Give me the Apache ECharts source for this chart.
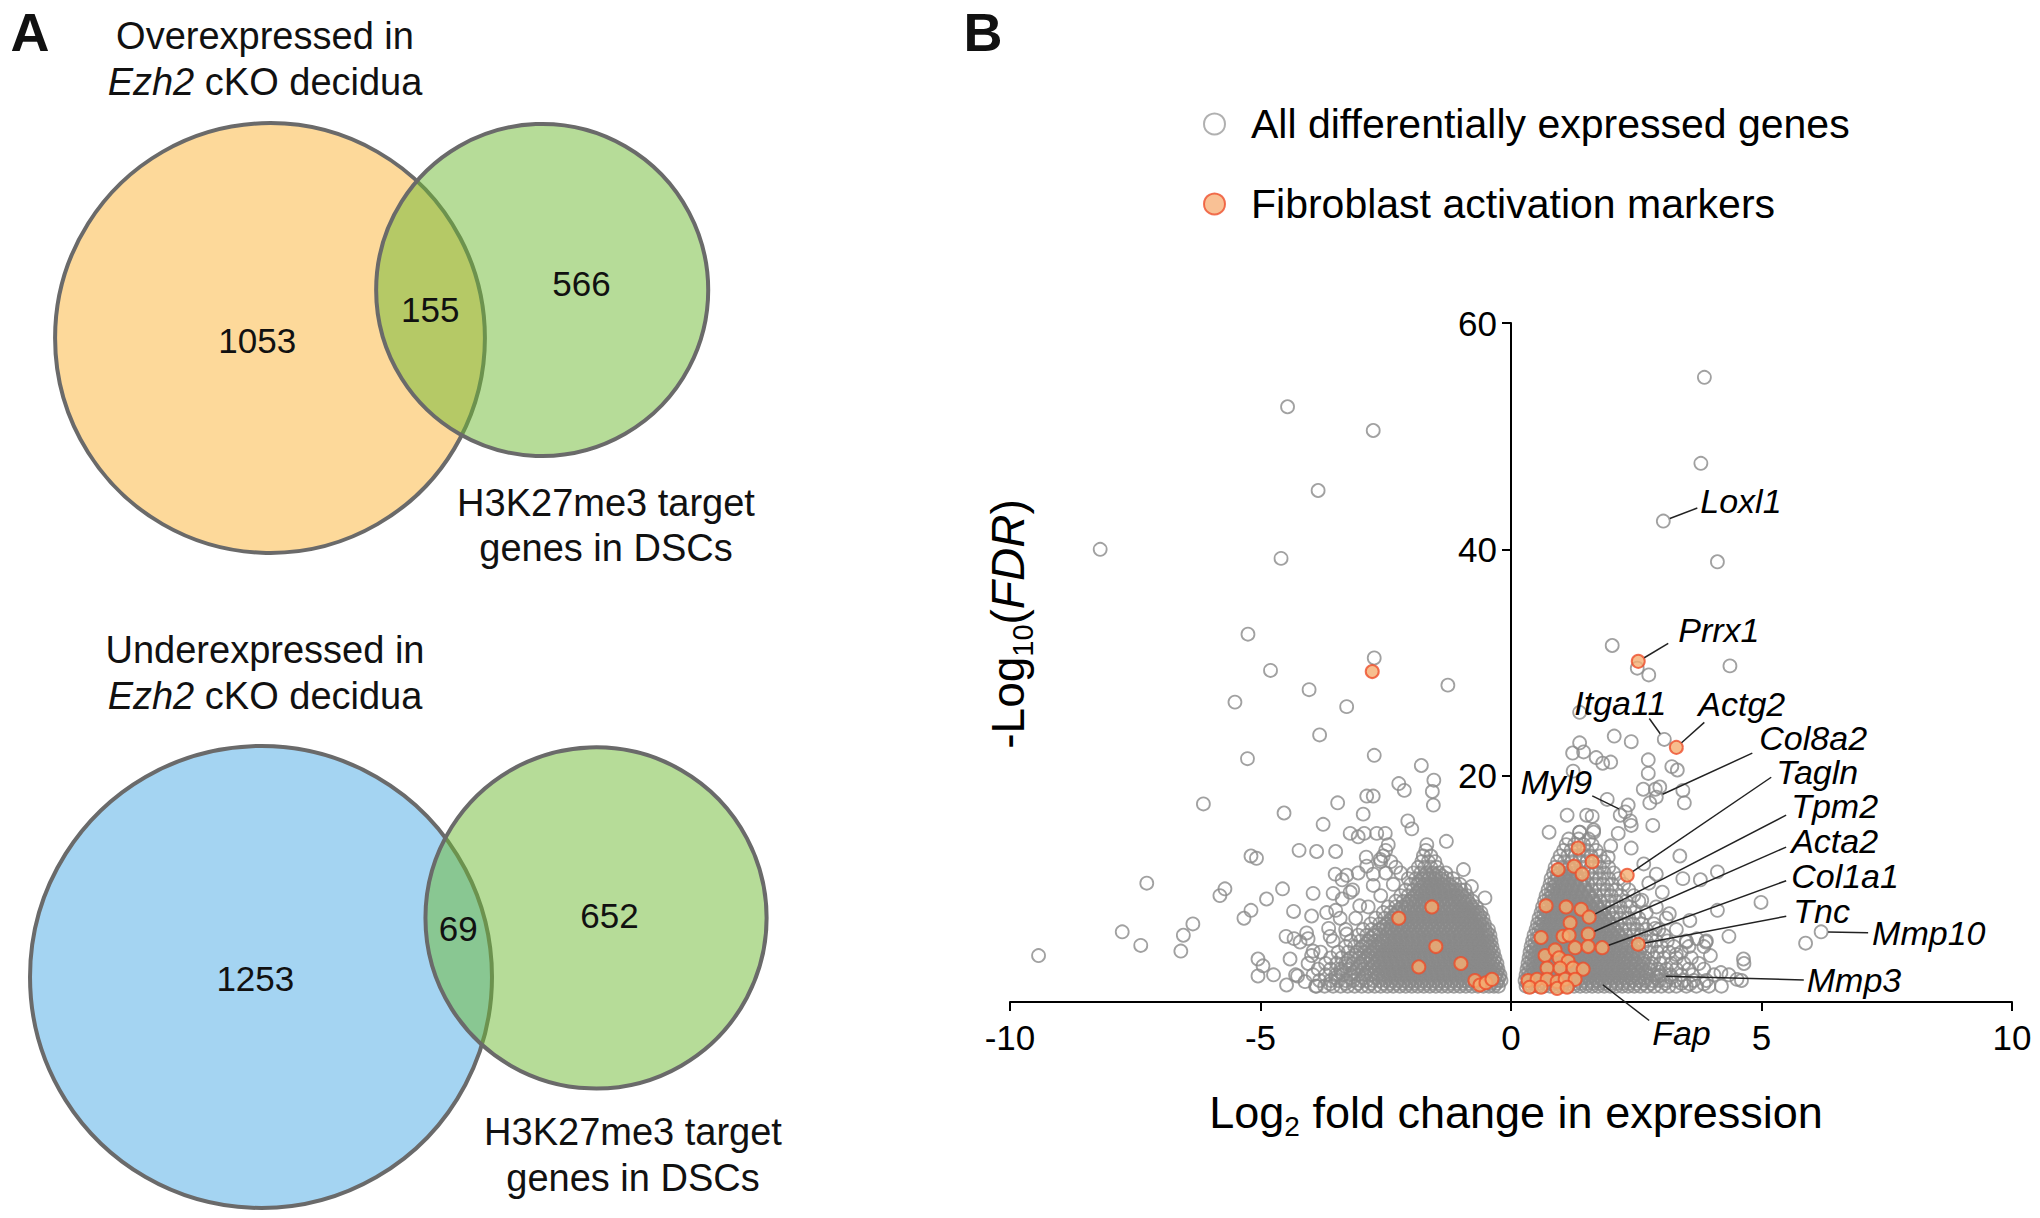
<!DOCTYPE html>
<html><head><meta charset="utf-8">
<script src="https://cdn.jsdelivr.net/npm/echarts@6/dist/echarts.min.js"></script>
<style>html,body{margin:0;padding:0;background:#fff}#c{width:2040px;height:1218px}</style>
</head><body><div id="c"></div><script>
// ---------------- DATA ----------------
// Venn counts: [only in expression set, shared, only H3K27me3 targets]
const vennUpCounts = [1053, 155, 566];
const vennDownCounts = [1253, 69, 652];
const vennUpTitle = ['Overexpressed in', '{i|Ezh2} cKO decidua'];
const vennDownTitle = ['Underexpressed in', '{i|Ezh2} cKO decidua'];
const vennSetLabel = ['H3K27me3 target', 'genes in DSCs'];

// Volcano plot
const xTicks = [-10, -5, 0, 5, 10];
const yTicks = [20, 40, 60];
const seriesNames = ['All differentially expressed genes', 'Fibroblast activation markers'];
const xAxisTitle = 'Log{sub|2} fold change in expression';
const yAxisTitle = '-Log{sub|10}({i|FDR})';

// sparse differentially expressed genes [log2FC, -log10 FDR]
const graySparse = [
[-4.46,52.6],[-2.75,50.5],[-3.85,45.2],[-8.2,40.0],[-4.59,39.2],[-5.25,32.5],[-2.73,30.4],[-4.8,29.3],[-4.03,27.6],[-1.26,28.0],
[-5.51,26.5],[-3.28,26.1],[-3.82,23.6],[-2.73,21.8],[-5.26,21.5],[-1.79,20.9],[-2.24,19.3],[-2.13,18.7],[-1.54,19.6],[-1.57,18.6],
[-1.55,17.4],[-2.88,18.2],[-2.75,18.2],[-6.14,17.5],[-3.46,17.6],[-4.53,16.7],[-2.06,16.0],[-1.98,15.3],[-3.75,15.7],[-2.95,16.6],
[-2.93,14.9],[-2.51,14.9],[-2.68,14.9],[-3.05,14.6],[-3.21,14.9],[-1.29,14.2],[-4.23,13.4],[-3.88,13.3],[-3.5,13.3],[-2.89,12.8],
[-5.19,12.9],[-5.08,12.7],[-7.27,10.5],[-5.71,10.0],[-5.81,9.4],[-4.56,10.0],[-4.88,9.1],[-5.33,7.4],[-5.19,8.1],[-7.76,6.2],
[-6.35,6.9],[-6.54,5.9],[-6.59,4.5],[-7.39,5.0],[-9.43,4.1],[-4.49,5.8],[-4.33,5.6],[-5.05,3.8],[-4.95,3.2],[-4.74,2.4],
[-5.05,2.3],[-0.95,11.7],[-0.79,10.2],[-0.52,9.2],[-3.51,11.3],[-3.28,11.2],[-3.05,11.4],[-2.75,11.3],[-3.95,9.6],[-3.55,9.6],
[-3.21,9.7],[-4.34,8.0],[-3.98,7.6],[-3.68,7.9],[-3.41,7.4],[-4.08,6.1],[-3.61,5.8],[-3.28,6.0],[-4.41,3.8],[-4.21,5.3],
[-3.95,4.5],[-4.48,1.5],[-4.11,1.8],[-3.88,1.4],[-3.61,1.6],[-4.05,5.6],[-3.98,4.1],[-4.26,2.3],[-3.64,6.5],[-3.37,9.1],
[-3.5,8.1],[-3.16,9.9],[-2.75,10.3],[-3.02,8.5],[-3.37,10.8],[-2.88,12.0],[-2.61,12.6],
[3.86,55.2],[3.79,47.6],[3.04,42.5],[4.12,38.9],[2.02,31.5],[2.52,29.5],[2.75,28.9],[4.37,29.7],[1.37,25.6],[3.06,23.2],
[2.06,23.5],[2.4,23.0],[1.37,22.9],[1.23,22.0],[1.45,22.1],[1.7,21.6],[1.83,21.1],[1.99,21.2],[2.74,21.4],[3.21,20.8],
[3.32,20.5],[1.24,20.4],[2.74,20.2],[2.97,19.0],[2.64,18.8],[2.88,18.8],[3.43,18.7],[3.46,17.6],[2.77,17.6],[2.9,18.1],
[1.92,17.9],[2.34,17.4],[2.28,16.8],[2.18,16.5],[2.38,16.0],[2.4,15.6],[1.51,16.5],[1.12,16.5],[1.62,16.4],[0.76,15.0],
[1.37,15.0],[1.65,15.2],[2.14,14.9],[2.83,15.6],[1.99,13.8],[2.4,13.6],[1.94,12.8],[3.37,12.9],[4.12,11.5],[3.43,10.9],
[3.78,10.8],[4.99,8.8],[4.12,8.1],[4.35,5.8],[3.5,5.3],[3.71,5.6],[3.89,5.3],[5.88,5.2],[6.19,6.2],[4.64,3.8],
[4.19,2.6],[4.51,2.0],[3.85,1.6],[3.57,1.6],[3.98,4.1],[3.02,9.7],[2.75,10.5],[2.61,9.0],[3.16,7.8],[3.57,7.2],
[2.88,6.5],[3.3,4.2],[2.95,2.3],[2.65,12.2],[2.9,11.3],[1.72,1.9]
];

// dense part of the cloud, read row by row: [-log10 FDR, [log2FC ...]]
const grayDenseRows = [
[1.4,[-3.9,-3.72,-3.55,-3.4,-3.26,-3.12,-2.98,-2.85,-2.72,-2.6,-2.47,-2.35,-2.22,-2.1,-1.98,-1.86,-1.74,-1.62,-1.5,-1.38,-1.26,-1.14,-1.02,-0.9,-0.78,-0.66,-0.55,-0.44,-0.34,-0.25,
      0.3,0.42,0.54,0.66,0.78,0.9,1.02,1.14,1.26,1.38,1.5,1.62,1.74,1.86,1.98,2.1,2.22,2.34,2.46,2.58,2.72,2.86,3.0,3.15,3.3,3.5,3.7,3.95,4.2]],
[1.65,[-3.3,-3.05,-2.8,-2.55,-2.41,-2.29,-2.16,-2.04,-1.92,-1.8,-1.68,-1.56,-1.44,-1.32,-1.2,-1.08,-0.96,-0.84,-0.72,-0.6,-0.49,-0.39,-0.29,
      0.33,0.44,0.56,0.68,0.8,0.92,1.04,1.16,1.28,1.4,1.52,1.64,1.76,1.88,2.0,2.12,2.24,2.36,2.5,2.64,2.8,3.08,3.4]],
[1.9,[-3.82,-3.6,-3.45,-3.3,-3.15,-3.0,-2.88,-2.75,-2.62,-2.5,-2.38,-2.25,-2.13,-2.01,-1.89,-1.77,-1.65,-1.53,-1.41,-1.29,-1.17,-1.05,-0.93,-0.81,-0.69,-0.58,-0.47,-0.37,-0.27,-0.2,
      0.28,0.38,0.5,0.62,0.74,0.86,0.98,1.1,1.22,1.34,1.46,1.58,1.7,1.82,1.94,2.06,2.18,2.3,2.42,2.55,2.68,2.82,2.96,3.1,3.28,3.45,3.65,3.9,4.6]],
[2.15,[-3.5,-3.2,-2.95,-2.69,-2.56,-2.44,-2.32,-2.19,-2.07,-1.95,-1.83,-1.71,-1.59,-1.47,-1.35,-1.23,-1.11,-0.99,-0.87,-0.75,-0.64,-0.53,-0.42,-0.32,-0.24,
      0.34,0.45,0.57,0.69,0.81,0.93,1.05,1.17,1.29,1.41,1.53,1.65,1.77,1.89,2.01,2.13,2.25,2.38,2.52,2.66,2.9,3.2]],
[2.4,[-4.3,-3.95,-3.7,-3.5,-3.35,-3.2,-3.05,-2.92,-2.79,-2.66,-2.54,-2.42,-2.3,-2.18,-2.06,-1.94,-1.82,-1.7,-1.58,-1.46,-1.34,-1.22,-1.1,-0.98,-0.86,-0.74,-0.62,-0.51,-0.4,-0.3,-0.22,
      0.3,0.4,0.52,0.64,0.76,0.88,1.0,1.12,1.24,1.36,1.48,1.6,1.72,1.84,1.96,2.08,2.2,2.32,2.44,2.56,2.7,2.84,3.0,3.18,3.4,3.62,4.05,4.35]],
[2.65,[-3.4,-3.13,-2.88,-2.73,-2.6,-2.48,-2.36,-2.24,-2.12,-2.0,-1.88,-1.76,-1.64,-1.52,-1.4,-1.28,-1.16,-1.04,-0.92,-0.8,-0.69,-0.58,-0.47,-0.37,-0.28,
      0.36,0.47,0.59,0.71,0.83,0.95,1.07,1.19,1.31,1.43,1.55,1.67,1.79,1.91,2.03,2.15,2.27,2.4,2.54,2.69,2.95]],
[2.9,[-3.85,-3.6,-3.4,-3.22,-3.08,-2.95,-2.82,-2.69,-2.56,-2.44,-2.32,-2.2,-2.08,-1.96,-1.84,-1.72,-1.6,-1.48,-1.36,-1.24,-1.12,-1.0,-0.88,-0.76,-0.65,-0.54,-0.44,-0.34,-0.26,
      0.32,0.44,0.56,0.68,0.8,0.92,1.04,1.16,1.28,1.4,1.52,1.64,1.76,1.88,2.0,2.12,2.24,2.36,2.48,2.62,2.76,2.92,3.1,3.3,3.55,3.85]],
[3.15,[-3.3,-3.02,-2.76,-2.63,-2.5,-2.38,-2.26,-2.14,-2.02,-1.9,-1.78,-1.66,-1.54,-1.42,-1.3,-1.18,-1.06,-0.94,-0.82,-0.71,-0.6,-0.5,-0.4,-0.31,
      0.38,0.5,0.62,0.74,0.86,0.98,1.1,1.22,1.34,1.46,1.58,1.7,1.82,1.94,2.06,2.18,2.31,2.45,2.6,2.78]],
[3.4,[-4.05,-3.7,-3.48,-3.3,-3.15,-3.0,-2.86,-2.73,-2.6,-2.48,-2.36,-2.24,-2.12,-2.0,-1.88,-1.76,-1.64,-1.52,-1.4,-1.28,-1.16,-1.04,-0.92,-0.8,-0.69,-0.58,-0.47,-0.37,-0.28,
      0.34,0.46,0.58,0.7,0.82,0.94,1.06,1.18,1.3,1.42,1.54,1.66,1.78,1.9,2.02,2.14,2.26,2.38,2.5,2.64,2.8,2.98,3.2,3.45,3.75,4.65]],
[3.65,[-3.25,-2.95,-2.8,-2.66,-2.54,-2.42,-2.3,-2.18,-2.06,-1.94,-1.82,-1.7,-1.58,-1.46,-1.34,-1.22,-1.1,-0.98,-0.86,-0.75,-0.64,-0.53,-0.43,-0.34,
      0.41,0.53,0.65,0.77,0.89,1.01,1.13,1.25,1.37,1.49,1.61,1.73,1.85,1.97,2.09,2.21,2.34,2.48,2.65]],
[3.9,[-3.6,-3.38,-3.2,-3.04,-2.9,-2.77,-2.64,-2.52,-2.4,-2.28,-2.16,-2.04,-1.92,-1.8,-1.68,-1.56,-1.44,-1.32,-1.2,-1.08,-0.96,-0.84,-0.73,-0.62,-0.51,-0.41,-0.32,
      0.36,0.48,0.6,0.72,0.84,0.96,1.08,1.2,1.32,1.44,1.56,1.68,1.8,1.92,2.04,2.16,2.28,2.4,2.53,2.68,2.85,3.05,3.3,3.6]],
[4.15,[-3.1,-2.85,-2.7,-2.58,-2.46,-2.34,-2.22,-2.1,-1.98,-1.86,-1.74,-1.62,-1.5,-1.38,-1.26,-1.14,-1.02,-0.9,-0.79,-0.68,-0.57,-0.47,-0.38,
      0.43,0.55,0.67,0.79,0.91,1.03,1.15,1.27,1.39,1.51,1.63,1.75,1.87,1.99,2.11,2.24,2.38,2.54]],
[4.4,[-3.8,-3.45,-3.25,-3.08,-2.93,-2.8,-2.67,-2.55,-2.43,-2.31,-2.19,-2.07,-1.95,-1.83,-1.71,-1.59,-1.47,-1.35,-1.23,-1.11,-0.99,-0.87,-0.76,-0.65,-0.54,-0.44,-0.35,
      0.38,0.5,0.62,0.74,0.86,0.98,1.1,1.22,1.34,1.46,1.58,1.7,1.82,1.94,2.06,2.18,2.3,2.43,2.57,2.73,2.92,3.15,3.4]],
[4.65,[-3.0,-2.75,-2.62,-2.5,-2.38,-2.26,-2.14,-2.02,-1.9,-1.78,-1.66,-1.54,-1.42,-1.3,-1.18,-1.06,-0.94,-0.83,-0.72,-0.61,-0.5,-0.41,
      0.45,0.57,0.69,0.81,0.93,1.05,1.17,1.29,1.41,1.53,1.65,1.77,1.89,2.01,2.14,2.28,2.44]],
[4.9,[-3.3,-3.12,-2.96,-2.82,-2.69,-2.57,-2.45,-2.33,-2.21,-2.09,-1.97,-1.85,-1.73,-1.61,-1.49,-1.37,-1.25,-1.13,-1.01,-0.89,-0.78,-0.67,-0.56,-0.46,-0.38,
      0.4,0.52,0.64,0.76,0.88,1.0,1.12,1.24,1.36,1.48,1.6,1.72,1.84,1.96,2.08,2.2,2.33,2.47,2.62,2.8,3.0,3.25,3.55,3.85]],
[5.15,[-2.9,-2.64,-2.52,-2.4,-2.28,-2.16,-2.04,-1.92,-1.8,-1.68,-1.56,-1.44,-1.32,-1.2,-1.08,-0.96,-0.85,-0.74,-0.63,-0.53,-0.44,
      0.48,0.6,0.72,0.84,0.96,1.08,1.2,1.32,1.44,1.56,1.68,1.8,1.92,2.05,2.18,2.32]],
[5.4,[-3.55,-3.2,-3.0,-2.85,-2.71,-2.58,-2.46,-2.34,-2.22,-2.1,-1.98,-1.86,-1.74,-1.62,-1.5,-1.38,-1.26,-1.14,-1.02,-0.9,-0.79,-0.68,-0.58,-0.48,-0.4,
      0.43,0.55,0.67,0.79,0.91,1.03,1.15,1.27,1.39,1.51,1.63,1.75,1.87,1.99,2.11,2.24,2.38,2.53,2.7,2.9,3.12,3.5,3.9]],
[5.65,[-2.8,-2.55,-2.42,-2.3,-2.18,-2.06,-1.94,-1.82,-1.7,-1.58,-1.46,-1.34,-1.22,-1.1,-0.98,-0.87,-0.76,-0.65,-0.55,-0.46,
      0.52,0.64,0.76,0.88,1.0,1.12,1.24,1.36,1.48,1.6,1.72,1.84,1.96,2.09,2.22]],
[5.9,[-3.05,-2.88,-2.74,-2.61,-2.48,-2.36,-2.24,-2.12,-2.0,-1.88,-1.76,-1.64,-1.52,-1.4,-1.28,-1.16,-1.04,-0.92,-0.81,-0.7,-0.6,-0.5,-0.42,
      0.46,0.58,0.7,0.82,0.94,1.06,1.18,1.3,1.42,1.54,1.66,1.78,1.9,2.02,2.15,2.29,2.44,2.6,2.8,3.05]],
[6.15,[-2.7,-2.44,-2.32,-2.2,-2.08,-1.96,-1.84,-1.72,-1.6,-1.48,-1.36,-1.24,-1.12,-1.0,-0.89,-0.78,-0.67,-0.57,-0.48,
      0.55,0.67,0.79,0.91,1.03,1.15,1.27,1.39,1.51,1.63,1.75,1.87,2.0,2.13]],
[6.4,[-3.3,-2.95,-2.78,-2.63,-2.5,-2.38,-2.26,-2.14,-2.02,-1.9,-1.78,-1.66,-1.54,-1.42,-1.3,-1.18,-1.06,-0.94,-0.83,-0.72,-0.62,-0.52,-0.45,
      0.5,0.62,0.74,0.86,0.98,1.1,1.22,1.34,1.46,1.58,1.7,1.82,1.94,2.07,2.21,2.36,2.52,2.7,2.95,3.3]],
[6.65,[-2.55,-2.42,-2.3,-2.18,-2.06,-1.94,-1.82,-1.7,-1.58,-1.46,-1.34,-1.22,-1.1,-0.98,-0.88,-0.77,-0.67,-0.57,
      0.58,0.7,0.82,0.94,1.06,1.18,1.3,1.42,1.54,1.66,1.78,1.91,2.04]],
[6.9,[-2.8,-2.62,-2.48,-2.36,-2.24,-2.12,-2.0,-1.88,-1.76,-1.64,-1.52,-1.4,-1.28,-1.16,-1.04,-0.93,-0.82,-0.72,-0.62,-0.53,
      0.53,0.65,0.77,0.89,1.01,1.13,1.25,1.37,1.49,1.61,1.73,1.85,1.98,2.12,2.27,2.44,2.62,2.85]],
[7.15,[-2.44,-2.31,-2.19,-2.07,-1.95,-1.83,-1.71,-1.59,-1.47,-1.35,-1.23,-1.11,-0.99,-0.89,-0.79,-0.69,-0.6,
      0.61,0.73,0.85,0.97,1.09,1.21,1.33,1.45,1.57,1.69,1.82,1.95]],
[7.4,[-3.1,-2.7,-2.52,-2.38,-2.25,-2.13,-2.01,-1.89,-1.77,-1.65,-1.53,-1.41,-1.29,-1.17,-1.05,-0.94,-0.84,-0.74,-0.64,-0.56,
      0.56,0.68,0.8,0.92,1.04,1.16,1.28,1.4,1.52,1.64,1.76,1.89,2.03,2.18,2.35,2.55,3.1]],
[7.65,[-2.33,-2.21,-2.09,-1.97,-1.85,-1.73,-1.61,-1.49,-1.37,-1.25,-1.13,-1.01,-0.91,-0.81,-0.72,-0.63,
      0.65,0.77,0.89,1.01,1.13,1.25,1.37,1.49,1.61,1.74,1.87]],
[7.9,[-2.55,-2.4,-2.27,-2.15,-2.03,-1.91,-1.79,-1.67,-1.55,-1.43,-1.31,-1.19,-1.07,-0.96,-0.86,-0.76,-0.67,-0.6,
      0.6,0.72,0.84,0.96,1.08,1.2,1.32,1.44,1.56,1.68,1.81,1.95,2.1,2.27,2.47,2.7]],
[8.15,[-2.24,-2.11,-1.99,-1.87,-1.75,-1.63,-1.51,-1.39,-1.27,-1.15,-1.03,-0.93,-0.83,-0.74,
      0.68,0.8,0.92,1.04,1.16,1.28,1.4,1.52,1.65,1.79]],
[8.4,[-2.85,-2.45,-2.3,-2.17,-2.05,-1.93,-1.81,-1.69,-1.57,-1.45,-1.33,-1.21,-1.09,-0.98,-0.88,-0.78,-0.69,
      0.63,0.75,0.87,0.99,1.11,1.23,1.35,1.47,1.59,1.72,1.86,2.01,2.18,2.38,2.9]],
[8.65,[-2.09,-1.96,-1.84,-1.72,-1.6,-1.48,-1.36,-1.24,-1.12,-1.01,-0.91,-0.82,
      0.72,0.84,0.96,1.08,1.2,1.32,1.44,1.57,1.71]],
[8.9,[-2.3,-2.15,-2.02,-1.9,-1.78,-1.66,-1.54,-1.42,-1.3,-1.18,-1.06,-0.96,-0.86,-0.77,
      0.67,0.79,0.91,1.03,1.15,1.27,1.39,1.51,1.64,1.78,1.93,2.1,2.3,2.55]],
[9.15,[-1.98,-1.86,-1.74,-1.62,-1.5,-1.38,-1.26,-1.14,-1.03,-0.93,
      0.76,0.88,1.0,1.12,1.24,1.36,1.49,1.63]],
[9.4,[-2.6,-2.2,-2.05,-1.92,-1.8,-1.68,-1.56,-1.44,-1.32,-1.2,-1.08,-0.98,-0.88,
      0.7,0.82,0.94,1.06,1.18,1.3,1.42,1.55,1.69,1.84,2.0,2.2,2.45]],
[9.65,[-1.88,-1.76,-1.64,-1.52,-1.4,-1.28,-1.16,-1.05, 0.8,0.92,1.04,1.16,1.28,1.41,1.55]],
[9.9,[-2.1,-1.95,-1.82,-1.7,-1.58,-1.46,-1.34,-1.22,-1.1,-1.0,-0.92,
      0.74,0.86,0.98,1.1,1.22,1.34,1.47,1.61,1.76,1.92,2.1,2.35]],
[10.15,[-1.8,-1.66,-1.54,-1.42,-1.3,-1.18, 0.84,0.96,1.08,1.2,1.33,1.47]],
[10.4,[-2.35,-2.0,-1.86,-1.73,-1.6,-1.48,-1.36,-1.24,-1.12,-1.02,
      0.78,0.9,1.02,1.14,1.26,1.39,1.53,1.68,1.84,2.02,2.25]],
[10.65,[-1.84,-1.7,-1.58,-1.46,-1.34, 0.87,1.0,1.13,1.26,1.4]],
[10.9,[-2.05,-1.9,-1.77,-1.64,-1.52,-1.4,-1.28,-1.16,
      0.8,0.93,1.06,1.19,1.32,1.46,1.61,1.77,1.95,2.15]],
[11.15,[-1.74,-1.62,-1.5,-1.38, 0.92,1.05,1.18,1.32]],
[11.4,[-2.5,-2.2,-1.95,-1.8,-1.68,-1.56,-1.44,-1.3,
      0.85,0.98,1.11,1.24,1.38,1.53,1.69,1.86,2.05]],
[11.65,[0.95,1.09,1.24]],
[11.9,[-2.3,-1.85,-1.72,-1.6,-1.48, 0.88,1.02,1.16,1.3,1.45,1.6,1.77,1.95]],
[12.4,[-2.6,-2.4,-1.78,-1.65,-1.52, 0.93,1.07,1.22,1.37,1.52,1.68,1.85]],
[12.9,[-2.55,-1.75,-1.6, 0.98,1.13,1.28,1.44,1.6,1.78]],
[13.4,[-2.5,-1.7, 1.05,1.2,1.36,1.52,1.7]],
[13.9,[-2.45,-1.68, 1.1,1.27,1.45,1.62]],
[14.4,[1.15,1.35,1.55]],
[15.0,[1.37,1.65]]
];

// fibroblast activation markers [log2FC, -log10 FDR]
const markerPoints = [
[-2.77,29.2],[-2.24,7.4],[-1.58,8.4],[-1.5,4.9],[-1.84,3.1],[-1.0,3.4],[-0.72,1.9],[-0.62,1.5],[-0.5,1.7],[-0.38,2.0],
[2.54,30.1],[3.3,22.5],[1.34,13.6],[0.94,11.7],[1.26,12.0],[1.62,12.4],[1.42,11.3],[2.32,11.2],[0.7,8.5],[1.1,8.4],
[1.4,8.2],[1.56,7.5],[1.18,7.0],[0.6,5.7],[1.04,5.8],[1.16,5.9],[1.54,6.0],[1.28,4.8],[1.54,4.9],[1.82,4.8],
[2.54,5.1],[0.68,4.1],[0.88,4.6],[0.96,3.9],[1.14,3.6],[0.72,3.0],[0.98,3.0],[1.24,3.0],[1.44,2.9],[0.34,1.9],
[0.52,2.0],[0.72,2.0],[0.92,1.8],[1.08,2.0],[1.28,2.0],[0.37,1.3],[0.6,1.3],[0.92,1.2],[1.12,1.3]
];

// labelled genes
const labeledGenes = ['Loxl1','Prrx1','Itga11','Actg2','Col8a2','Myl9','Tagln','Tpm2','Acta2','Col1a1','Tnc','Mmp10','Mmp3','Fap'];
const labeledX = [3.04, 2.54, 3.06, 3.3, 2.9, 2.28, 2.32, 1.56, 1.54, 1.82, 2.54, 6.19, 2.95, 1.72];
const labeledY = [42.5, 30.1, 23.2, 22.5, 18.1, 16.8, 11.2, 7.5, 6.0, 4.8, 5.1, 6.2, 2.3, 1.9];

// ---------------- LAYOUT (pixels) ----------------
const FONT = '"Liberation Sans", Arial, Helvetica, sans-serif';
// label layout: text offset (tx,ty), text align, leader-line end offset (lx,ly) relative to the point
const labelLayout = [
  {tx:37, ty:-20, a:'left', lx:34, ly:-13},
  {tx:40, ty:-31, a:'left', lx:30, ly:-18},
  {tx:-44, ty:-36, a:'center', lx:-15, ly:-21},
  {tx:22, ty:-43, a:'left', lx:28, ly:-25},
  {tx:103, ty:-59, a:'left', lx:96, ly:-44},
  {tx:-33, ty:-30, a:'right', lx:-33, ly:-16},
  {tx:149, ty:-103, a:'left', lx:144, ly:-98},
  {tx:202, ty:-111, a:'left', lx:197, ly:-102},
  {tx:203, ty:-93, a:'left', lx:198, ly:-87},
  {tx:189, ty:-72, a:'left', lx:184, ly:-67},
  {tx:155, ty:-33, a:'left', lx:148, ly:-28},
  {tx:51, ty:1, a:'left', lx:47, ly:1},
  {tx:148, ty:4, a:'left', lx:145, ly:4},
  {tx:55, ty:53, a:'left', lx:52, ly:40}
];
const VENN_ANGLE = 10 * Math.PI / 180;
const vennBoxes = [
  {top:0, w:780, h:609, cx:270, cy:338, scale:10.96, t0f:-0.06, t2f:0.24, nudge:0},
  {top:609, w:780, h:609, cx:261, cy:368, scale:11.26, t0f:-0.025, t2f:0.08, nudge:-14}
];

// ---------------- VENN GEOMETRY (area proportional) ----------------
function lensArea(r1, r2, d) {
  if (d >= r1 + r2) return 0;
  if (d <= Math.abs(r1 - r2)) return Math.PI * Math.min(r1, r2) ** 2;
  const a1 = Math.acos((d*d + r1*r1 - r2*r2) / (2*d*r1));
  const a2 = Math.acos((d*d + r2*r2 - r1*r1) / (2*d*r2));
  return r1*r1*a1 + r2*r2*a2 - 0.5*Math.sqrt((-d+r1+r2)*(d+r1-r2)*(d-r1+r2)*(d+r1+r2));
}
function vennLayout(counts) {
  const r1 = Math.sqrt((counts[0] + counts[1]) / Math.PI);
  const r2 = Math.sqrt((counts[2] + counts[1]) / Math.PI);
  let lo = Math.abs(r1 - r2), hi = r1 + r2;
  for (let i = 0; i < 80; i++) { const m = (lo + hi) / 2; if (lensArea(r1, r2, m) > counts[1]) lo = m; else hi = m; }
  return {r1, r2, d: (lo + hi) / 2};
}
const vennFillsUp = ['rgba(251,179,53,0.5)', 'rgba(109,185,49,0.5)'];
const vennFillsDown = ['rgba(73,169,229,0.5)', 'rgba(109,185,49,0.5)'];

function vennSeries(counts, gi, fills, box) {
  const {r1, r2, d} = vennLayout(counts);
  const ux = Math.cos(VENN_ANGLE), uy = -Math.sin(VENN_ANGLE);
  const circles = [[0, 0, r1, 0], [d*ux, d*uy, r2, 1]];
  const t0 = box.t0f * r1, t1 = (d - r2 + r1) / 2, t2 = d + box.t2f * r2;
  const nudge = box.nudge / box.scale;
  const nums = [[t0*ux, t0*uy, counts[0]], [t1*ux, t1*uy + nudge, counts[1]], [t2*ux, t2*uy, counts[2]]];
  return [
    { type: 'custom', xAxisIndex: gi, yAxisIndex: gi, data: circles, silent: true, clip: false, z: 2,
      renderItem: (p, api) => {
        const c = api.coord([api.value(0), api.value(1)]);
        const r = api.size([api.value(2), 0])[0];
        return { type: 'circle', shape: {cx: c[0], cy: c[1], r: r},
          style: {fill: fills[api.value(3)], stroke: '#6a6a6a', lineWidth: 4} };
      } },
    { type: 'custom', xAxisIndex: gi, yAxisIndex: gi, data: nums, silent: true, clip: false, z: 3,
      renderItem: (p, api) => {
        const c = api.coord([api.value(0), api.value(1)]);
        return { type: 'text', x: c[0], y: c[1],
          style: {text: String(api.value(2)), font: '35px ' + FONT, fill: '#111', align: 'center', verticalAlign: 'middle'} };
      } }
  ];
}

function vennAxes(box, gi) {
  return {
    x: {gridIndex: gi, type: 'value', show: false, min: -box.cx / box.scale, max: (box.w - box.cx) / box.scale},
    y: {gridIndex: gi, type: 'value', show: false, inverse: true, min: -box.cy / box.scale, max: (box.h - box.cy) / box.scale}
  };
}
const va1 = vennAxes(vennBoxes[0], 1), va2 = vennAxes(vennBoxes[1], 2);

const grayPoints = graySparse.concat(grayDenseRows.flatMap(r => r[1].map(x => [x, r[0]])));

function textEl(x, y, text, size, extra) {
  return Object.assign({ type: 'text', x: x, y: y, silent: true,
    style: { text: text, font: size + 'px ' + FONT, fill: '#111', align: 'center', verticalAlign: 'middle',
      rich: { i: {fontStyle: 'italic', fontSize: size, fontFamily: FONT, fill: '#111'} } } }, extra || {});
}

const PLOT = {left: 1010, top: 323, width: 1002, height: 679};
const option = {
  animation: false,
  backgroundColor: '#fff',
  grid: [
    PLOT,
    {left: 0, top: vennBoxes[0].top, width: vennBoxes[0].w, height: vennBoxes[0].h},
    {left: 0, top: vennBoxes[1].top, width: vennBoxes[1].w, height: vennBoxes[1].h}
  ],
  xAxis: [
    { gridIndex: 0, type: 'value', min: xTicks[0], max: xTicks[xTicks.length - 1], interval: 5,
      axisLine: {onZero: false, lineStyle: {color: '#000', width: 2}},
      axisTick: {length: 9, lineStyle: {color: '#000', width: 2}},
      axisLabel: {fontSize: 35, fontFamily: FONT, color: '#000', margin: 18},
      splitLine: {show: false} },
    va1.x, va2.x
  ],
  yAxis: [
    { gridIndex: 0, type: 'value', min: 0, max: yTicks[yTicks.length - 1], interval: 20,
      position: 'left', offset: -(PLOT.width / 2),
      axisLine: {show: true, onZero: false, lineStyle: {color: '#000', width: 2}},
      axisTick: {show: true, length: 9, lineStyle: {color: '#000', width: 2}},
      axisLabel: {fontSize: 35, fontFamily: FONT, color: '#000', margin: 14,
        formatter: v => (yTicks.indexOf(v) >= 0 ? String(v) : '')},
      splitLine: {show: false} },
    va1.y, va2.y
  ],
  legend: {
    orient: 'vertical', left: 1198, top: 94, itemWidth: 21, itemHeight: 21, itemGap: 30,
    icon: 'circle', selectedMode: false,
    textStyle: {fontSize: 41, fontFamily: FONT, color: '#000', lineHeight: 50, padding: [0, 0, 0, 21]},
    data: [
      {name: seriesNames[0], itemStyle: {color: '#ffffff', borderColor: '#9c9c9c', borderWidth: 2}},
      {name: seriesNames[1], itemStyle: {color: '#F7B27A', borderColor: '#EE4D2A', borderWidth: 2}}
    ]
  },
  graphic: [
    textEl(30, 32, 'A', 54, {style: {text: 'A', font: 'bold 54px ' + FONT, fill: '#111', align: 'center', verticalAlign: 'middle'}}),
    textEl(983, 32, 'B', 54, {style: {text: 'B', font: 'bold 54px ' + FONT, fill: '#111', align: 'center', verticalAlign: 'middle'}}),
    textEl(265, 36, vennUpTitle[0], 38),
    textEl(265, 82, vennUpTitle[1], 38),
    textEl(606, 503, vennSetLabel[0], 38),
    textEl(606, 548, vennSetLabel[1], 38),
    textEl(265, 650, vennDownTitle[0], 38),
    textEl(265, 696, vennDownTitle[1], 38),
    textEl(633, 1132, vennSetLabel[0], 38),
    textEl(633, 1178, vennSetLabel[1], 38),
    { type: 'text', x: 1516, y: 1112, silent: true,
      style: { text: xAxisTitle, font: '45px ' + FONT, fill: '#000', align: 'center', verticalAlign: 'middle',
        lineHeight: 56,
        rich: { sub: {fontSize: 28, fontFamily: FONT, lineHeight: 28, verticalAlign: 'bottom', fill: '#000'} } } },
    { type: 'text', x: 1008, y: 624, rotation: Math.PI / 2, silent: true,
      style: { text: yAxisTitle, font: '46px ' + FONT, fill: '#000', align: 'center', verticalAlign: 'middle',
        lineHeight: 58,
        rich: { sub: {fontSize: 29, fontFamily: FONT, lineHeight: 29, verticalAlign: 'bottom', fill: '#000'},
                i: {fontSize: 46, fontStyle: 'italic', fontFamily: FONT, lineHeight: 58, fill: '#000'} } } }
  ],
  series: [
    { name: seriesNames[0], type: 'scatter', xAxisIndex: 0, yAxisIndex: 0, data: grayPoints,
      symbol: 'circle', symbolSize: 13, large: false, progressive: 0, silent: true, z: 2,
      itemStyle: {color: 'rgba(255,255,255,0)', borderColor: '#8a8a8a', borderWidth: 1.8} },
    { name: seriesNames[1], type: 'scatter', xAxisIndex: 0, yAxisIndex: 0, data: markerPoints,
      symbol: 'circle', symbolSize: 13, large: false, progressive: 0, silent: true, z: 3,
      itemStyle: {color: '#F5AE72', borderColor: '#EE4D2A', borderWidth: 2} },
    { type: 'custom', xAxisIndex: 0, yAxisIndex: 0, silent: true, clip: false, z: 4,
      data: labeledGenes.map((g, i) => [labeledX[i], labeledY[i]]),
      renderItem: (params, api) => {
        const i = params.dataIndex;
        const p = api.coord([api.value(0), api.value(1)]);
        const L = labelLayout[i];
        const ex = p[0] + L.lx, ey = p[1] + L.ly;
        const dx = ex - p[0], dy = ey - p[1], len = Math.hypot(dx, dy) || 1;
        const sx = p[0] + dx / len * 7, sy = p[1] + dy / len * 7;
        return { type: 'group', children: [
          { type: 'line', shape: {x1: sx, y1: sy, x2: ex, y2: ey}, style: {stroke: '#222', lineWidth: 1.5} },
          { type: 'text', x: p[0] + L.tx, y: p[1] + L.ty,
            style: {text: labeledGenes[i], font: 'italic 34px ' + FONT, fill: '#000', align: L.a, verticalAlign: 'middle', lineHeight: 30} }
        ]};
      } }
  ].concat(vennSeries(vennUpCounts, 1, vennFillsUp, vennBoxes[0]), vennSeries(vennDownCounts, 2, vennFillsDown, vennBoxes[1]))
};

const chart = echarts.init(document.getElementById('c'), null, {renderer: 'svg', width: 2040, height: 1218});
chart.setOption(option);
</script></body></html>
